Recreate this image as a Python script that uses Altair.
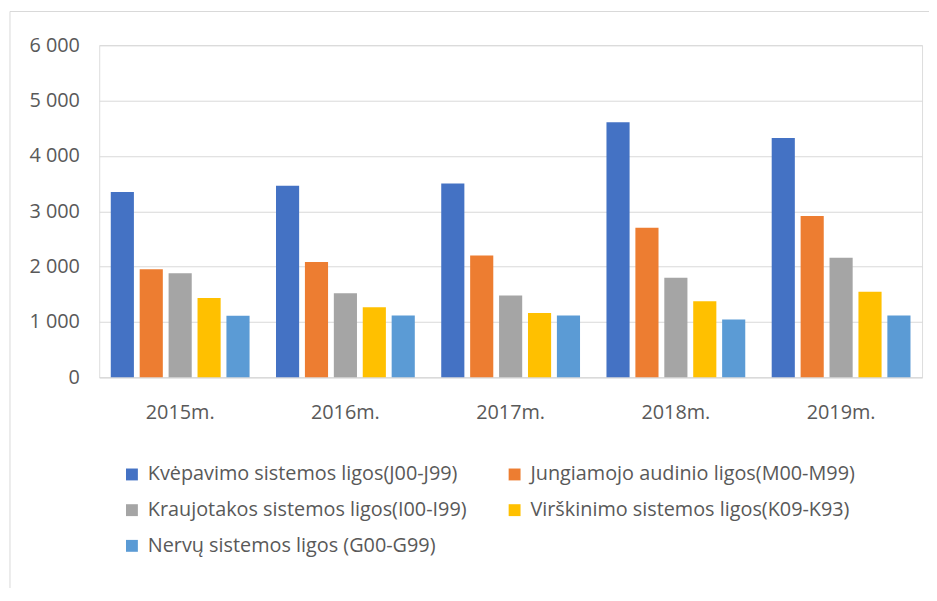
import altair as alt
import pandas as pd

years = ["2015m.", "2016m.", "2017m.", "2018m.", "2019m."]
series = [
    "Kvėpavimo sistemos ligos(J00-J99)",
    "Jungiamojo audinio ligos(M00-M99)",
    "Kraujotakos sistemos ligos(I00-I99)",
    "Virškinimo sistemos ligos(K09-K93)",
    "Nervų sistemos ligos (G00-G99)",
]
kvepavimo = [3350, 3460, 3500, 4610, 4325]
jungiamojo = [1950, 2085, 2200, 2700, 2915]
kraujotakos = [1880, 1520, 1480, 1800, 2160]
virskinimo = [1435, 1265, 1160, 1375, 1545]
nervu = [1110, 1115, 1115, 1045, 1115]
colors = ["#4472C4", "#ED7D31", "#A5A5A5", "#FFC000", "#5B9BD5"]
y_ticks = [0, 1000, 2000, 3000, 4000, 5000, 6000]

values = [kvepavimo, jungiamojo, kraujotakos, virskinimo, nervu]
rows = []
for s, vals in zip(series, values):
    for yr, v in zip(years, vals):
        rows.append({"Metai": yr, "Liga": s, "Reikšmė": v})
df = pd.DataFrame(rows)

FONT = "Open Sans"
TXT = "#595959"

bars = alt.Chart(df).mark_bar().encode(
    x=alt.X("Metai:N", sort=years, title=None,
            scale=alt.Scale(paddingInner=0.16, paddingOuter=0.07),
            axis=alt.Axis(labelAngle=0, ticks=False, domain=True, domainColor="#D9D9D9",
                          labelPadding=26, labelFontSize=20, labelColor=TXT, labelFont=FONT)),
    xOffset=alt.XOffset("Liga:N", sort=series, scale=alt.Scale(paddingInner=0.2, paddingOuter=0)),
    y=alt.Y("Reikšmė:Q", title=None,
            scale=alt.Scale(domain=[0, 6000], nice=False),
            axis=alt.Axis(values=y_ticks, ticks=False, domain=False, gridColor="#D9D9D9",
                          labelPadding=20, labelFontSize=20, labelColor=TXT, labelFont=FONT,
                          labelExpr="replace(format(datum.value, ','), ',', ' ')")),
    color=alt.Color("Liga:N", sort=series,
                    scale=alt.Scale(domain=series, range=colors),
                    legend=alt.Legend(title=None, orient="none", legendX=23, legendY=423,
                                      direction="horizontal", columns=2, columnPadding=38,
                                      rowPadding=16, symbolType="square", symbolSize=144,
                                      symbolStrokeWidth=0, labelFontSize=20, labelColor=TXT,
                                      labelFont=FONT, labelOffset=6, padding=0,
                                      labelLimit=500)),
)

frame = alt.Chart(pd.DataFrame({"f": [0]})).mark_rect(
    fill=None, stroke="#D9D9D9", strokeWidth=1
).encode(x=alt.value(-90), x2=alt.value(900), y=alt.value(-34), y2=alt.value(700))

chart = alt.layer(frame, bars).properties(
    width=830, height=335,
    autosize=alt.AutoSizeParams(type="none"),
    padding={"left": 92, "top": 35, "right": 7, "bottom": 210},
).configure_view(stroke=None).configure(background="white")

chart.save("out.html", embed_options={"renderer": "svg", "actions": False})
